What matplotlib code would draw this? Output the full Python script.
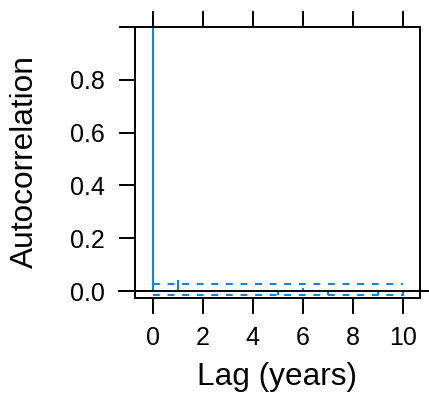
import numpy as np
import matplotlib.pyplot as plt

plt.rcParams['font.family'] = ['Liberation Sans', 'DejaVu Sans']

# ACF values
lags = [0, 1, 2, 3, 4, 5, 6, 7, 8, 9, 10]
acf = [1.0, 0.044, -0.002, -0.004, -0.004, -0.016, 0.011, -0.016, -0.003, -0.016, -0.018]
ci_upper = 0.026
ci_lower = -0.013
xticks = [0, 2, 4, 6, 8, 10]
yticks = [0.0, 0.2, 0.4, 0.6, 0.8, 1.0]
ylabels = ['0.0', '0.2', '0.4', '0.6', '0.8', '']

blue = '#0080ff'

fig = plt.figure(figsize=(4.29, 4.08), dpi=100)
ax = fig.add_axes([135 / 429, 1 - 297.5 / 408, 284.5 / 429, 270.5 / 408])

ax.vlines(lags, 0, acf, color=blue, lw=1.4)
ax.plot([lags[0], lags[-1]], [ci_upper, ci_upper], color=blue, lw=1.4,
        ls=(0, (3.5, 4.0)))
ax.plot([lags[0], lags[-1]], [ci_lower, ci_lower], color=blue, lw=1.4,
        ls=(0, (3.5, 4.0)))
ax.plot([-1.35, 11.2], [0, 0], color='black', lw=1.4, clip_on=False, zorder=3)

ax.set_xlim(-0.7, 10.67)
ax.set_ylim(-0.024, 1.0)

for s in ax.spines.values():
    s.set_linewidth(1.4)

ax.set_xticks(xticks)
ax.set_yticks(yticks)
ax.set_yticklabels(ylabels)
ax.tick_params(axis='x', which='both', top=True, bottom=True, labeltop=False,
               direction='out', length=11.5, width=1.4, labelsize=18, pad=9)
ax.tick_params(axis='y', which='both', left=True, right=False,
               direction='out', length=11.5, width=1.4, labelsize=18, pad=10)

fig.text(25 / 429, 1 - 162 / 408, 'Autocorrelation', rotation=90,
         ha='center', va='center', fontsize=22.8)
fig.text(277 / 429, 1 - 377 / 408, 'Lag (years)', ha='center', va='center',
         fontsize=22.8)

fig.savefig('out.png', dpi=100)
